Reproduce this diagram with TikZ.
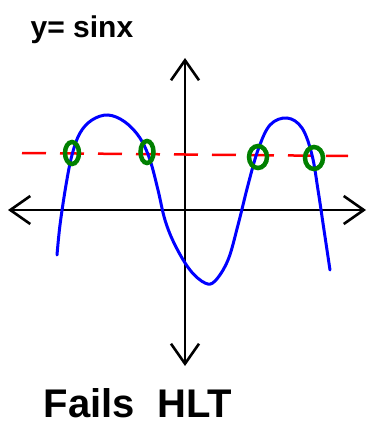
\documentclass[tikz,border=0pt]{standalone}
\usepackage{fontspec}
\setmainfont{Liberation Sans}
\usetikzlibrary{arrows.meta, shapes.geometric, positioning}

\begin{document}
\begin{tikzpicture}[
    x=1pt, y=-1pt,
    axis/.style={line width=2.6pt, line cap=round, {Straight Barb[length=20pt,width=28pt]}-{Straight Barb[length=20pt,width=28pt]}},
    sine/.style={blue, line width=3pt, line cap=round},
    level/.style={red, line width=2.5pt, dash pattern=on 24pt off 14pt},
    hit/.style={draw=green!50!black, line width=4.5pt, ellipse, inner sep=0pt, minimum width=14pt, minimum height=22pt},
    label/.style={font=\bfseries, inner sep=0pt}
]
\useasboundingbox (0,0) rectangle (374,425);

% Axes
\coordinate (xl) at (8,210);
\coordinate (xr) at (366,210);
\coordinate (yt) at (185,58);
\coordinate (yb) at (185,366);
\draw[axis] (xl) -- (xr);
\draw[axis] (yt) -- (yb);

% Horizontal line
\coordinate (hl) at (22,153);
\coordinate (hr) at (348,156);
\draw[level] (hl) -- (hr);

% Curve
\draw[sine] plot[smooth, tension=0.6] coordinates {
    (57,255) (60,225) (66,185) (72,155) (80,133) (92,120) (108,115)
    (125,122) (140,138) (150,160) (158,190) (165,220) (175,245)
    (190,270) (205,283) (215,281) (228,260) (238,225) (248,185)
    (258,150) (270,125) (287,118) (302,128) (312,155) (318,190)
    (324,230) (330,270)};

% Intersections
\node (c1) [hit] at (72,153) {};
\node (c2) [hit, minimum width=13pt] at (147,152) {};
\node (c3) [hit, minimum width=18pt] at (258,157) {};
\node (c4) [hit, minimum width=18pt] at (314,158) {};

% Labels
\node (title) [label, font=\bfseries\fontsize{30}{30}\selectfont] at (82,30) {y= sinx};
\node (caption) [label, font=\bfseries\fontsize{40}{40}\selectfont] at (138,403) {Fails\ \ HLT};

\end{tikzpicture}
\end{document}
